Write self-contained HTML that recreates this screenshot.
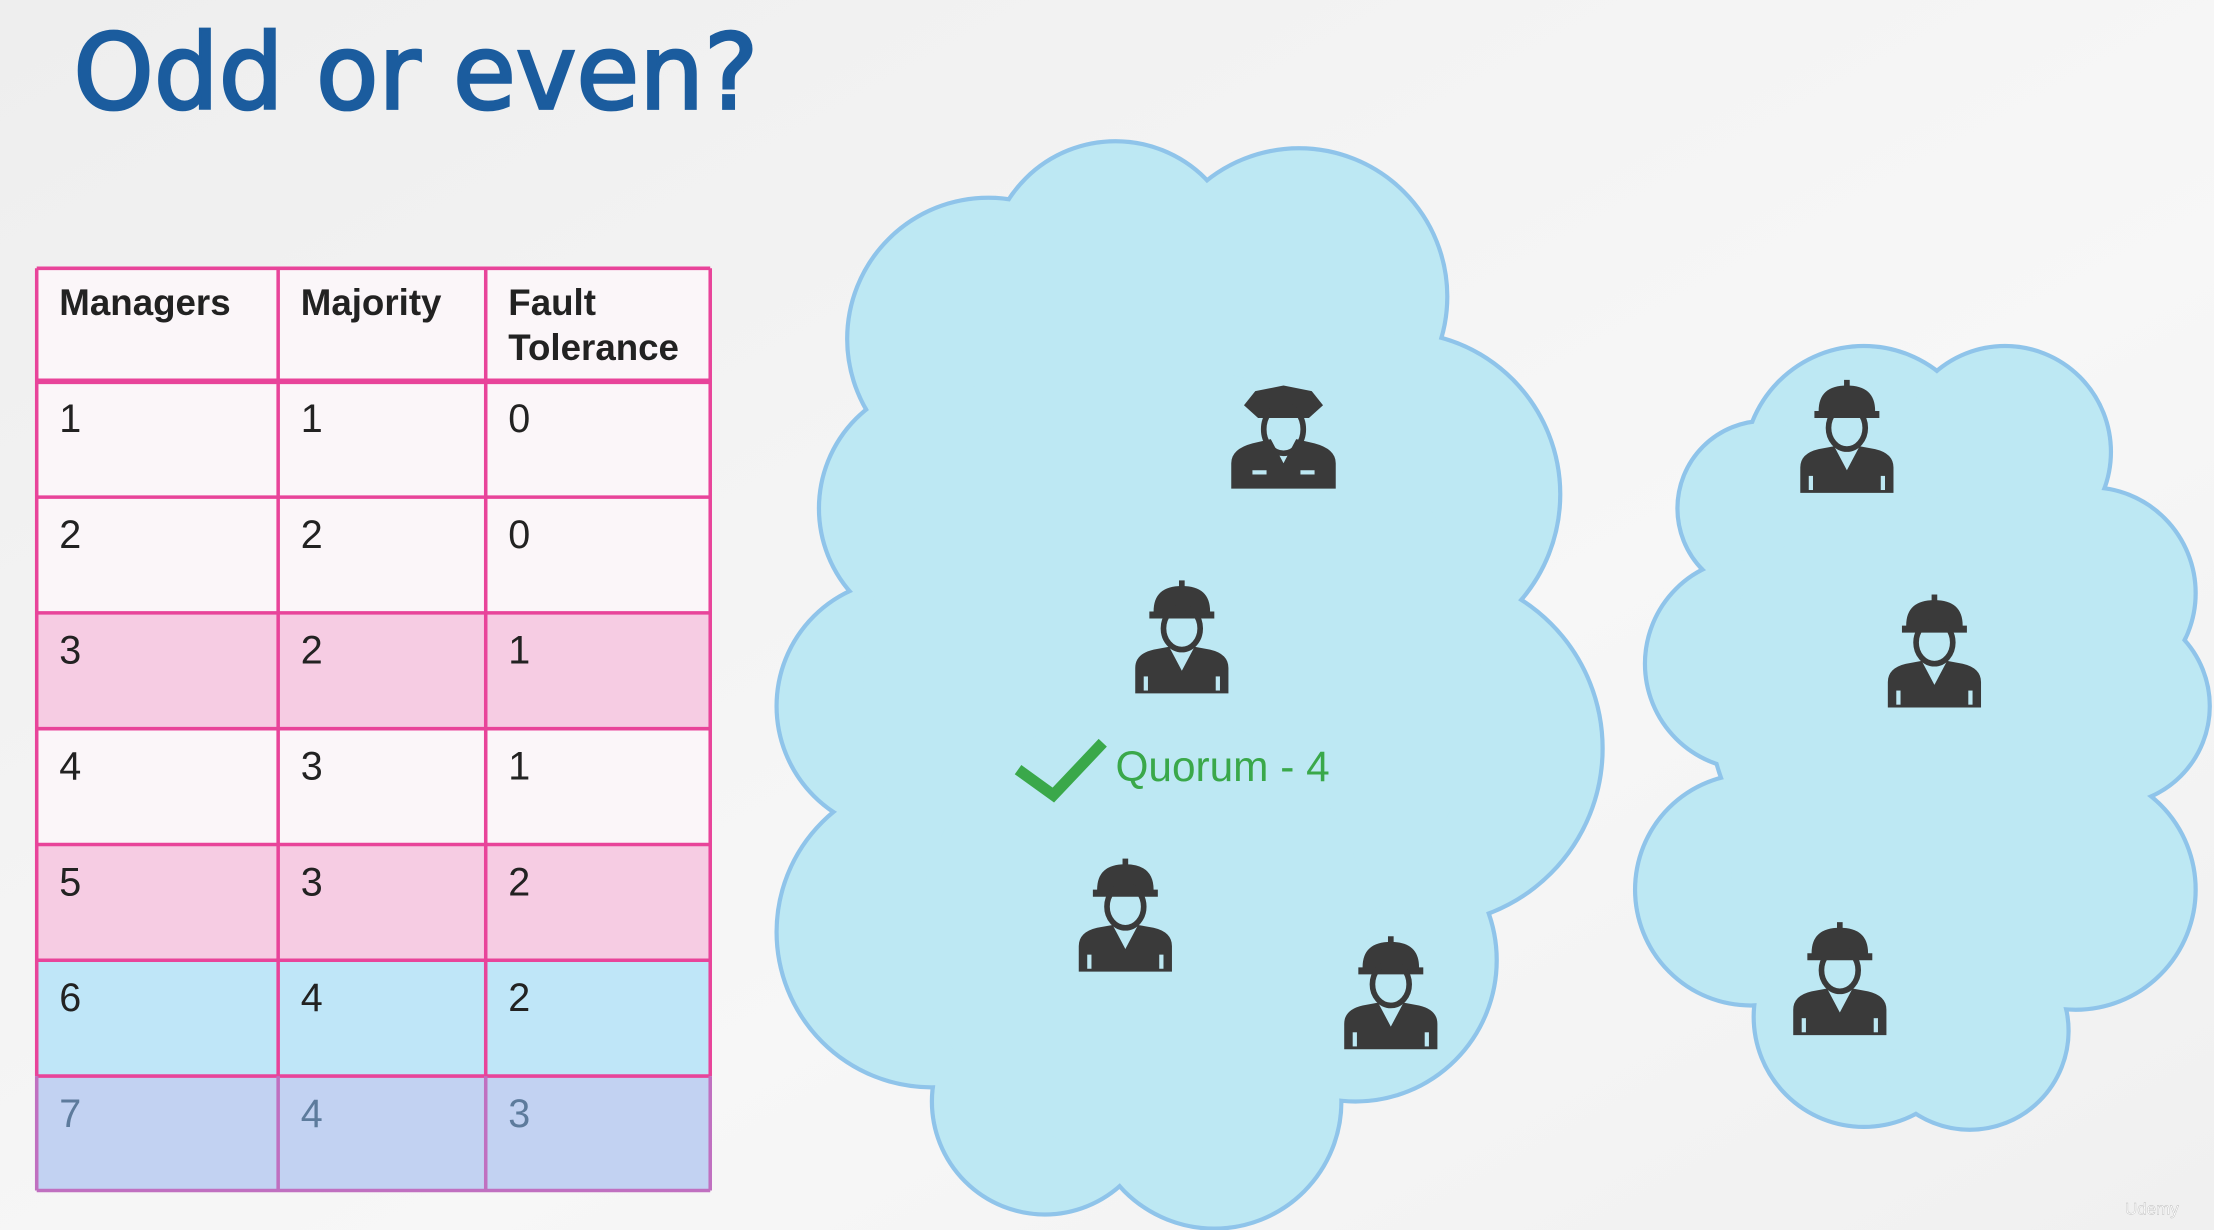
<!DOCTYPE html>
<html><head><meta charset="utf-8"><style>
html,body{margin:0;padding:0;background:#f3f3f3}
svg{display:block}
</style></head><body>
<svg width="2214" height="1230" viewBox="0 0 1568 871" preserveAspectRatio="none" xmlns="http://www.w3.org/2000/svg" font-family="Liberation Sans, DejaVu Sans, sans-serif">
<defs>
<linearGradient id="bg" x1="0" y1="0" x2="1" y2="1"><stop offset="0" stop-color="#eeeeee"/><stop offset="0.6" stop-color="#f7f7f7"/><stop offset="1" stop-color="#f0f0f0"/></linearGradient>
</defs>
<rect width="1568" height="871" fill="url(#bg)"/>
<text x="52" y="77" font-size="74" fill="#1b5c9e" stroke="#1b5c9e" stroke-width="2" font-family="DejaVu Sans, Liberation Sans, sans-serif" textLength="485" lengthAdjust="spacingAndGlyphs">Odd or even?</text>
<g id="clouds"></g>
<g id="table"></g>
<g id="icons"></g>
<g>
<path d="M721 545 L746 563 L781 526" fill="none" stroke="#3aa84a" stroke-width="8"/>
<text x="790" y="553" font-size="30" fill="#3aa84a">Quorum - 4</text>
</g>
<text x="1505" y="860" font-size="12" fill="#ffffff" stroke="#bbb" stroke-width="0.3">Udemy</text>
</svg>
<script>
const NS='http://www.w3.org/2000/svg';
function mk(t,a,p){const e=document.createElementNS(NS,t);for(const k in a)e.setAttribute(k,a[k]);p.appendChild(e);return e;}
const bigCloud=[[700,240,100],[790,190,90],[920,210,105],[990,350,115],[1010,530,125],[960,680,100],[860,780,90],[740,780,80],[660,660,110],[640,500,90],[670,360,90],[830,480,220],[810,660,160]];
const smallCloud=[[1320,330,85],[1250,360,62],[1420,320,75],[1480,420,75],[1240,470,75],[1240,630,82],[1320,720,78],[1395,730,70],[1470,630,85],[1495,500,70],[1360,500,150],[1350,620,125]];
const cg=document.getElementById('clouds');
[bigCloud,smallCloud].forEach((cl,i)=>{
  const g=mk('g',{},cg);
  
  
  cl.forEach(c=>mk('circle',{cx:c[0],cy:c[1],r:c[2],fill:'#9fd0ee',stroke:'#8fc4ea','stroke-width':3},g));
  cl.forEach(c=>mk('circle',{cx:c[0],cy:c[1],r:c[2]-1.5,fill:'#bde8f3'},g));
});
const headers=['Managers','Majority','Fault|Tolerance'];
const managers=[1,2,3,4,5,6,7];
const majority=[1,2,2,3,3,4,4];
const tolerance=[0,0,1,1,2,2,3];
const fills=['#fbf6f9','#fbf6f9','#f6cce3','#fbf6f9','#f6cce3','#bfe6f8','#c2d2f2'];
const tg=document.getElementById('table');
const colX=[26,197,344,503];
const rowY=[190,270,352,434,516,598,680,762,843];
mk('rect',{x:26,y:190,width:477,height:80,fill:'#fbf6f9'},tg);
for(let r=0;r<7;r++){
  const rr=mk('rect',{x:26,y:rowY[r+1],width:477,height:rowY[r+2]-rowY[r+1],fill:fills[r]},tg);
  
  
  const vals=[managers[r],majority[r],tolerance[r]];
  vals.forEach((v,c)=>{
    const t=mk('text',{x:colX[c]+16,y:rowY[r+1]+36,'font-size':28,fill:r==6?'#5d7b9c':'#222'},tg);
    
    
    t.textContent=v;
  });
}
headers.forEach((h,c)=>{
  h.split('|').forEach((line,j)=>{
    const t=mk('text',{x:colX[c]+16,y:223+j*32,'font-size':26,'font-weight':'bold',fill:'#222'},tg);
    
    
    t.textContent=line;
  });
});
rowY.forEach((y,i)=>mk('line',{x1:26,x2:503,y1:y,y2:y,stroke:i==8?'#c070c0':'#e8449a','stroke-width':i==1?4:2.5},tg));
colX.forEach(x=>{mk('line',{x1:x,x2:x,y1:190,y2:762,stroke:'#e8449a','stroke-width':2.5},tg);mk('line',{x1:x,x2:x,y1:762,y2:843,stroke:'#c070c0','stroke-width':2.5},tg);});
const ig=document.getElementById('icons');
function worker(cx,cy,s){
  const g=mk('g',{transform:`translate(${cx},${cy}) scale(${s})`},ig);
  
  
  const d='#3a3a3a';
  mk('path',{d:'M-20 -22 Q-20 -40 0 -40 Q20 -40 20 -22 L23 -22 L23 -17 L-23 -17 L-23 -22 Z',fill:d},g);
  mk('rect',{x:-2,y:-44,width:4,height:6,fill:d},g);
  mk('ellipse',{cx:0,cy:-10,rx:13,ry:15,fill:'none',stroke:d,'stroke-width':4},g);
  mk('path',{d:'M-33 36 L-33 18 Q-33 8 -20 5 L-9 3 L0 20 L9 3 L20 5 Q33 8 33 18 L33 36 Z',fill:d},g);
  mk('rect',{x:-27,y:24,width:3,height:10,fill:'#bde8f3'},g);
  mk('rect',{x:24,y:24,width:3,height:10,fill:'#bde8f3'},g);
}
function police(cx,cy){
  const g=mk('g',{transform:`translate(${cx},${cy})`},ig);
  
  
  const d='#3a3a3a';
  mk('path',{d:'M-28 -23 L-20 -33 L0 -37 L20 -33 L28 -23 L18 -14 L-18 -14 Z',fill:d},g);
  mk('ellipse',{cx:0,cy:-6,rx:14,ry:17,fill:'none',stroke:d,'stroke-width':4},g);
  mk('path',{d:'M-37 36 L-37 18 Q-37 8 -22 4 L-9 1 L0 18 L9 1 L22 4 Q37 8 37 18 L37 36 Z',fill:d},g);
  mk('rect',{x:-22,y:23,width:10,height:3,fill:'#bde8f3'},g);
  mk('rect',{x:12,y:23,width:10,height:3,fill:'#bde8f3'},g);
}
police(909,310);
[[837,455],[797,652],[985,707],[1308,313],[1370,465],[1303,697]].forEach(p=>worker(p[0],p[1],1));
</script>
</body></html>
